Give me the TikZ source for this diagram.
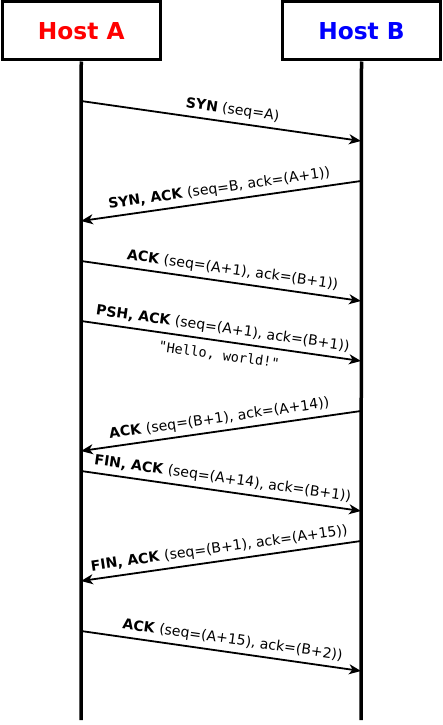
\documentclass[tikz,border=0pt]{standalone}
\usepackage{fontspec}
\setmainfont{DejaVu Sans}
\newfontfamily\hellofont{DejaVu Sans Mono}
\usetikzlibrary{arrows.meta}

\begin{document}
\begin{tikzpicture}[x=1pt, y=-1pt,
        host/.style={draw=black, line width=3pt, minimum width=158pt, minimum height=58pt, inner sep=0pt, font=\fontsize{23.3}{27}\selectfont\bfseries},
        life/.style={black, line width=3.5pt},
        msg/.style={black, line width=1.8pt},
        tipfwd/.style={-{Stealth[length=12pt, width=10pt, inset=3.5pt]}},
        tipback/.style={{Stealth[length=12pt, width=10pt, inset=3.5pt]}-},
        lbl/.style={sloped, above, inner sep=4.5pt, font=\fontsize{14.1}{16}\selectfont},
        data/.style={sloped, below, inner sep=7.5pt, font=\fontsize{13.5}{16}\hellofont}]

    \useasboundingbox (0,0) rectangle (443,725);

    % hosts and their lifelines
    \node[host, text=red] (hostA) at (81.25,31) {Host A};
    \node[host, text=blue] (hostB) at (361.5,31) {Host B};
    \coordinate (endA) at (81,720);
    \coordinate (endB) at (361,720);
    \draw[life] (hostA.south) -- (endA);
    \draw[life] (hostB.south) -- (endB);

    % message end points on the lifelines
    \coordinate (a1) at (81,101);  \coordinate (b1) at (361,141);
    \coordinate (a2) at (81,221);  \coordinate (b2) at (361,181);
    \coordinate (a3) at (81,261);  \coordinate (b3) at (361,301);
    \coordinate (a4) at (81,321);  \coordinate (b4) at (361,361);
    \coordinate (a5) at (81,451);  \coordinate (b5) at (361,411);
    \coordinate (a6) at (81,471);  \coordinate (b6) at (361,511);
    \coordinate (a7) at (81,581);  \coordinate (b7) at (361,541);
    \coordinate (a8) at (81,631);  \coordinate (b8) at (361,671);

    % handshake
    \draw[msg, tipfwd] (a1) -- (b1) node[lbl, pos=0.535] {\textbf{SYN} (seq=A)};
    \draw[msg, tipback] (a2) -- (b2) node[lbl, midway] {\textbf{SYN, ACK} (seq=B, ack=(A+1))};
    \draw[msg, tipfwd] (a3) -- (b3) node[lbl, pos=0.535] {\textbf{ACK} (seq=(A+1), ack=(B+1))};

    % data
    \draw[msg, tipfwd] (a4) -- (b4) node[lbl, midway] {\textbf{PSH, ACK} (seq=(A+1), ack=(B+1))}
        node[data, midway] {"Hello, world!"};
    \draw[msg, tipback] (a5) -- (b5) node[lbl, midway] {\textbf{ACK} (seq=(B+1), ack=(A+14))};

    % teardown
    \draw[msg, tipfwd] (a6) -- (b6) node[lbl, midway] {\textbf{FIN, ACK} (seq=(A+14), ack=(B+1))};
    \draw[msg, tipback] (a7) -- (b7) node[lbl, midway] {\textbf{FIN, ACK} (seq=(B+1), ack=(A+15))};
    \draw[msg, tipfwd] (a8) -- (b8) node[lbl, pos=0.535] {\textbf{ACK} (seq=(A+15), ack=(B+2))};

\end{tikzpicture}
\end{document}
